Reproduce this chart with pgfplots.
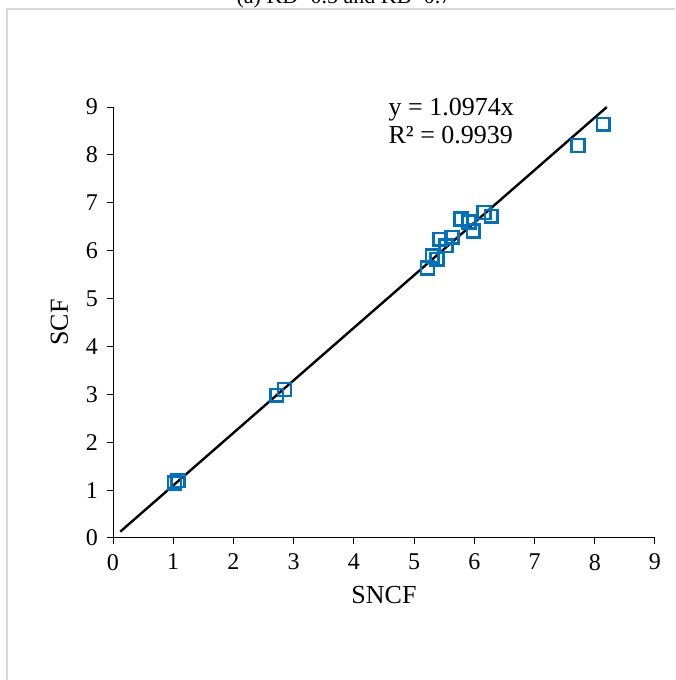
\documentclass[border=0pt]{standalone}
\usepackage{pgfplots}
\pgfplotsset{compat=1.18}
\usepackage{fontspec}
\setmainfont{Liberation Serif}
\definecolor{xlblue}{RGB}{0,112,192}
\definecolor{frame}{RGB}{217,217,217}
\begin{document}
\begin{tikzpicture}
\clip (0,0) rectangle (337.5pt,340pt);
% chart-area frame: only the left and top edges fall inside the picture
\draw[frame, line width=0.8pt] (3.5pt,-20pt) -- (3.5pt,335.5pt) -- (420pt,335.5pt);
\node[anchor=base, font=\fontsize{11}{13}\selectfont] at (172pt,338pt) {(a) KD=0.5 and KB=0.7};
\begin{axis}[
  at={(56.5pt,71pt)}, anchor=south west,
  scale only axis,
  width=271pt, height=215.5pt,
  xmin=0, xmax=9, ymin=0, ymax=9,
  xtick={0,...,9}, ytick={0,...,9},
  axis line style={line width=0.5pt},
  axis x line*=bottom, axis y line*=left,
  tick align=outside, major tick length=3pt,
  tick style={black, line width=0.5pt},
  ticklabel style={font=\fontsize{12}{14}\selectfont},
  xticklabel style={yshift=-1.5pt},
  yticklabel style={xshift=-1pt},
  /pgf/number format/assume math mode=true,
  xlabel={SNCF}, ylabel={SCF},
  label style={font=\fontsize{13}{15}\selectfont},
  xlabel style={yshift=-1pt},
  ylabel style={yshift=2pt},
  clip=false,
]
\addplot[only marks, mark=square, mark size=3.2pt,
  mark options={xlblue, line width=1.2pt}]
  coordinates {
  (1.02,1.15) (1.08,1.20)
  (2.72,2.98) (2.85,3.10)
  (5.22,5.64) (5.30,5.89) (5.38,5.82) (5.43,6.24) (5.53,6.10)
  (5.63,6.28) (5.78,6.66) (5.91,6.60) (5.98,6.41) (6.16,6.80)
  (6.28,6.72)
  (7.72,8.20) (8.14,8.64)
  };
% linear trendline through the origin
\addplot[black, line width=1.2pt] coordinates {(0.12,0.132) (8.2,8.999)};
\node[anchor=north west, align=left, font=\fontsize{13}{14}\selectfont, inner sep=0pt]
  at (axis cs:4.57,9.2) {y = 1.0974x\\R² = 0.9939};
\end{axis}
\end{tikzpicture}
\end{document}
